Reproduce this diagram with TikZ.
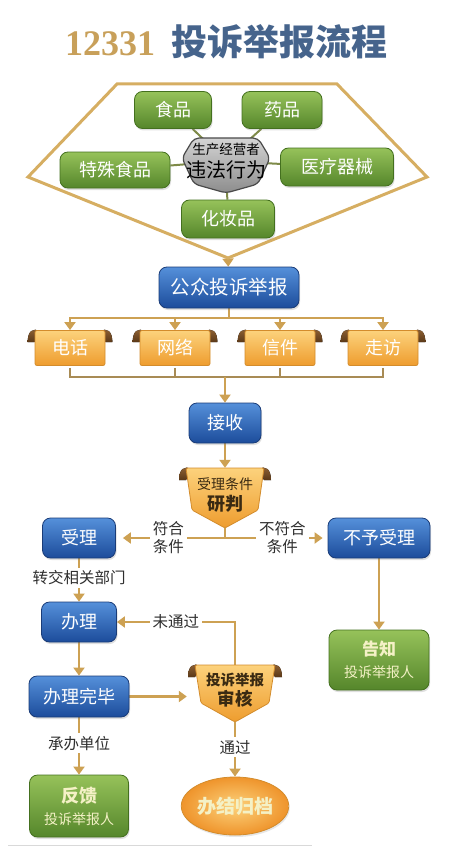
\documentclass[tikz,border=0pt]{standalone}
\usepackage{fontspec}
\setmainfont{Noto Sans CJK SC}
\newfontfamily\titlenum{Liberation Serif}
\usetikzlibrary{arrows.meta,shapes.geometric,shadows}
\definecolor{gold}{HTML}{CDA153}
\definecolor{hexgold}{HTML}{D6AE62}
\definecolor{bracketbrown}{HTML}{A88B55}
\definecolor{twigolive}{HTML}{7E8A48}
\definecolor{titlegold}{HTML}{C8A05A}
\definecolor{titleblue}{HTML}{46648C}
\definecolor{greentop}{HTML}{96C25A}
\definecolor{greenbot}{HTML}{55862B}
\definecolor{greenedge}{HTML}{44701F}
\definecolor{bluetop}{HTML}{5590DA}
\definecolor{bluebot}{HTML}{1C4C9B}
\definecolor{blueedge}{HTML}{1A3C78}
\definecolor{orangetop}{HTML}{FCD27C}
\definecolor{orangebot}{HTML}{EE9C2E}
\definecolor{orangeedge}{HTML}{D38C2C}
\definecolor{curltop}{HTML}{9A6A3A}
\definecolor{curlbot}{HTML}{5A3818}
\definecolor{shieldtop}{HTML}{D4D4D4}
\definecolor{shieldbot}{HTML}{8C8C8C}
\definecolor{shieldedge}{HTML}{4A4A4A}
\definecolor{labelgray}{HTML}{2E2E2E}
\definecolor{paleyellow}{HTML}{F4F1C6}
\definecolor{cuebrown}{HTML}{3A2A12}
\pgfdeclarelayer{bg}
\pgfsetlayers{bg,main}
\tikzset{
	greenbox/.style={draw=greenedge, line width=0.8pt, rounded corners=8pt,
			top color=greentop, bottom color=greenbot, text=white,
			font=\fontsize{18}{20}\selectfont, inner sep=0pt, align=center,
			drop shadow={opacity=0.25, shadow xshift=1pt, shadow yshift=-2pt}},
	bluebox/.style={draw=blueedge, line width=0.8pt, rounded corners=8pt,
			top color=bluetop, bottom color=bluebot, text=white,
			font=\fontsize{18}{20}\selectfont, inner sep=0pt, minimum height=40pt,
			drop shadow={opacity=0.25, shadow xshift=1pt, shadow yshift=-2pt}},
	scrollbox/.style={draw=orangeedge, line width=0.8pt, rounded corners=2pt,
			top color=orangetop, bottom color=orangebot, text=white,
			font=\fontsize{18}{20}\selectfont, inner sep=0pt,
			minimum width=70pt, minimum height=35pt},
	curl/.style={top color=curltop, bottom color=curlbot},
	cueshape/.style={draw=orangeedge, line width=0.8pt, rounded corners=1.5pt,
			top color=orangetop, bottom color=orangebot},
	cue/.style={text=cuebrown, inner sep=0pt, align=center},
	shield/.style={draw=shieldedge, line width=1.2pt, rounded corners=5pt,
			top color=shieldtop, bottom color=shieldbot},
	hexline/.style={draw=hexgold, line width=3pt, line join=miter},
	twig/.style={draw=twigolive, line width=2pt},
	link/.style={draw=gold, line width=2.5pt},
	flow/.style={link, -{Triangle[width=11pt,length=8pt]}},
	bracket/.style={draw=bracketbrown, line width=1.5pt},
	cond/.style={fill=white, text=labelgray, font=\fontsize{15.5}{18}\selectfont,
			inner sep=3pt, align=center}
}

\begin{document}
\begin{tikzpicture}[x=1pt,y=-1pt]
	\useasboundingbox (0,0) rectangle (457,864);
	\node (title) at (226,42) {{\titlenum\bfseries\fontsize{36}{40}\selectfont\color{titlegold}12331}\hspace{16pt}{\bfseries\fontsize{36}{40}\selectfont\color{titleblue}投诉举报流程}};

	% who breaks the rules
	\coordinate (hexbot) at (228,258);
	\draw[hexline] (117,84) -- (337,84) -- (427,177) -- (hexbot) -- (28,177) -- cycle;
	\path[shield] (194,138) -- (258,138) -- (270,158) -- (258,184) -- (226,193) -- (194,184) -- (182,158) -- cycle;
	\node[cue, text=black] (core) at (226,161) {{\fontsize{13.5}{15}\selectfont 生产经营者}\\[4pt]{\fontsize{20}{22}\selectfont 违法行为}};
	\node[greenbox, minimum width=77pt, minimum height=37pt] (food) at (173,110) {食品};
	\node[greenbox, minimum width=80pt, minimum height=37pt] (drug) at (282,110) {药品};
	\node[greenbox, minimum width=110pt, minimum height=36pt] (special) at (115,170) {特殊食品};
	\node[greenbox, minimum width=113pt, minimum height=38pt] (device) at (337,167) {医疗器械};
	\node[greenbox, minimum width=93pt, minimum height=38pt] (cosm) at (228,219) {化妆品};
	\begin{pgfonlayer}{bg}
		\foreach \n in {food,drug,special,device,cosm}
		\draw[twig] (core.center) -- (\n);
	\end{pgfonlayer}

	% channels
	\node[bluebox, minimum width=140pt, minimum height=41pt, font=\fontsize{19.5}{21}\selectfont] (report) at (229,287.5) {公众投诉举报};
	\foreach \n/\x/\t in {phone/70/电话,web/175/网络,mail/280/信件,visit/383/走访}
	\node[scrollbox] (\n) at (\x,348) {\t};
	\coordinate (tbus) at (229,318);
	\coordinate (bbus) at (225,377);
	\node[bluebox, minimum width=72pt] (recv) at (225,423) {接收};

	% first check
	\fill[curl] (192,470) .. controls +(-8,-6) and +(0,-10) .. ++(-13,10) -- ++(7,0) -- cycle;
	\fill[curl] (258,470) .. controls +(8,-6) and +(0,-10) .. ++(13,10) -- ++(-7,0) -- cycle;
	\path[cueshape] (186,468) -- (264,468) -- (258,510) -- (225,528) -- (192,510) -- cycle;
	\node[cue, minimum width=78pt, minimum height=54pt] (judge) at (225,495) {{\fontsize{14}{16}\selectfont 受理条件}\\[4pt]{\bfseries\fontsize{18}{20}\selectfont 研判}};
	\coordinate (split) at (225,538);
	\node[bluebox, minimum width=73pt] (accept) at (79,538) {受理};
	\node[bluebox, minimum width=102pt] (reject) at (379,538) {不予受理};
	\node[bluebox, minimum width=75pt] (handle) at (79,622) {办理};
	\node[bluebox, minimum width=100pt, minimum height=41pt] (done) at (79,696.5) {办理完毕};
	\node[greenbox, minimum width=100pt, minimum height=60pt, text=paleyellow] (notify) at (379,660) {{\bfseries\fontsize{17}{19}\selectfont 告知}\\[2pt]{\fontsize{14}{16}\selectfont 投诉举报人}};

	% second check
	\fill[curl] (201,667) .. controls +(-8,-6) and +(0,-10) .. ++(-13,10) -- ++(7,0) -- cycle;
	\fill[curl] (269,667) .. controls +(8,-6) and +(0,-10) .. ++(13,10) -- ++(-7,0) -- cycle;
	\path[cueshape] (195,665) -- (275,665) -- (269,703) -- (235,722) -- (201,703) -- cycle;
	\node[cue, minimum width=96pt, minimum height=50pt] (review) at (235,690) {{\bfseries\fontsize{14.5}{16}\selectfont 投诉举报}\\[3pt]{\bfseries\fontsize{17.5}{20}\selectfont 审核}};
	\node[greenbox, minimum width=99pt, minimum height=62pt, text=paleyellow] (feedback) at (79,806) {{\bfseries\fontsize{18}{20}\selectfont 反馈}\\[2pt]{\fontsize{14}{16}\selectfont 投诉举报人}};
	\node[ellipse, draw=orangeedge, line width=0.8pt, inner color=orangetop, outer color=orangebot!95!red, minimum width=103pt, minimum height=58pt, inner sep=0pt, text=paleyellow, font=\bfseries\fontsize{19}{21}\selectfont,
		drop shadow={opacity=0.2, shadow xshift=1pt, shadow yshift=-2pt}] (archive) at (235,806) {办结归档};
	\draw[gray!30, line width=1pt] (8,845) -- (312,845);

	\begin{pgfonlayer}{bg}
		\draw[flow] (hexbot) -- (report);
		\foreach \n in {phone,web,mail,visit}{
				\draw[flow] (report) -- (tbus) -| (\n.north);
				\draw[bracket] (\n.south) ++(0,2) |- (bbus);
				\fill[curl] (\n.north west) ++(6,2) .. controls +(-8,-6) and +(0,-10) .. ++(-13,10) -- ++(7,0) -- cycle;
				\fill[curl] (\n.north east) ++(-6,2) .. controls +(8,-6) and +(0,-10) .. ++(13,10) -- ++(-7,0) -- cycle;
			}
		\draw[flow] (bbus) -- (recv);
		\draw[flow] (recv) -- (judge.north);
		\draw[link] (judge.south) -- (split);
		\draw[flow, shorten >=7pt] (split) -- (accept) node[cond, pos=0.52] {符合\\条件};
		\draw[flow, shorten >=5pt] (split) -- (reject) node[cond, pos=0.56] {不符合\\条件};
		\draw[flow] (accept) -- (handle) node[cond, pos=0.45] {转交相关部门};
		\draw[flow] (handle) -- (done);
		\draw[flow] (done) -- (done.east -| review.west);
		\draw[flow] (review) |- (handle) node[cond, pos=0.75] {未通过};
		\draw[flow] (review) -- (archive) node[cond, pos=0.52] {通过};
		\draw[flow] (reject) -- (notify);
		\draw[flow] (done) -- (feedback) node[cond, pos=0.45] {承办单位};
	\end{pgfonlayer}
\end{tikzpicture}
\end{document}
